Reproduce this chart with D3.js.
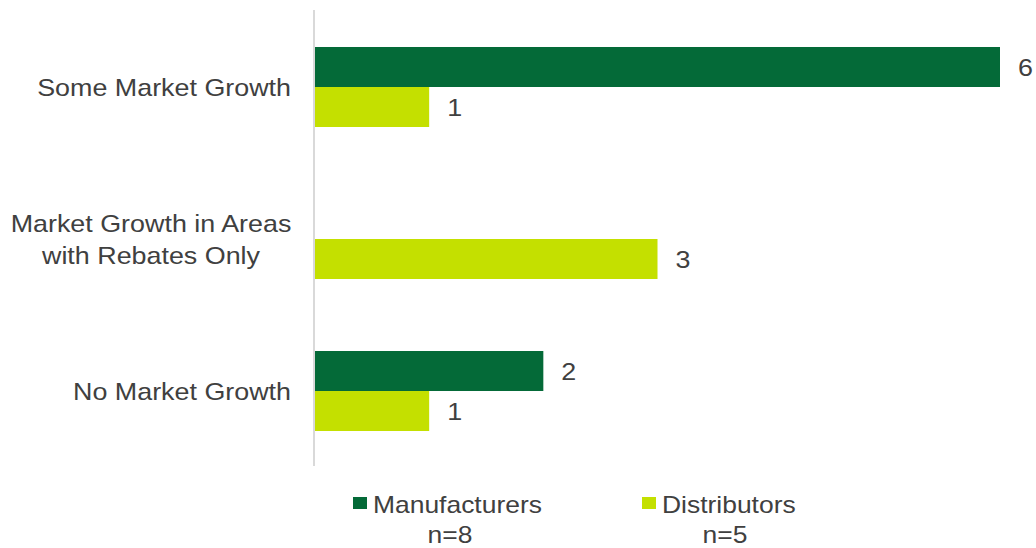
<!DOCTYPE html>
<html>
<head>
<meta charset="utf-8">
<script src="https://cdn.jsdelivr.net/npm/d3@7"></script>
<style>
  body { margin: 0; background: #fff; }
  text { font-family: "Liberation Sans", Arial, sans-serif; fill: #404040; }
</style>
</head>
<body>
<div id="chart"></div>
<script>
const categories = ["Some Market Growth", "Market Growth in Areas\nwith Rebates Only", "No Market Growth"];
const seriesNames = ["Manufacturers", "Distributors"];
const seriesN = ["n=8", "n=5"];
const manufacturers = [6, 0, 2];
const distributors = [1, 3, 1];
const colors = ["#046a38", "#c4e000"];

const width = 1036, height = 548;
const stretch = 1.12;  // the source text is a bit wide
const svg = d3.select('#chart').append('svg')
    .attr('width', width)
    .attr('height', height);

const x = d3.scaleLinear().domain([0, 6]).range([315, 1000]);
const y = d3.scaleBand().domain(categories).range([11, 467])
    .paddingInner(0.4737).paddingOuter(0.2368);
const ySub = d3.scaleBand().domain(seriesNames).range([0, y.bandwidth()]);

// places a text group at (tx, ty), stretched horizontally
function addLabel(parent, tx, ty, str, size, anchor, sx) {
    const g = parent.append('g')
        .attr('transform', `translate(${tx},${ty}) scale(${sx || stretch},1)`);
    const lines = str.split('\n');
    const t = g.append('text')
        .attr('text-anchor', anchor)
        .style('font-size', size + 'px');
    lines.forEach((ln, i) => {
        t.append('tspan')
            .attr('x', 0)
            .attr('y', (i - (lines.length - 1) / 2) * 32)
            .attr('dy', '0.36em')
            .text(ln);
    });
    return g;
}

const rows = categories.map((c, i) => ({
    cat: c,
    values: [
        { series: seriesNames[0], value: manufacturers[i] },
        { series: seriesNames[1], value: distributors[i] }
    ]
}));

const groups = svg.selectAll('.cat')
    .data(rows)
    .join('g')
    .attr('class', 'cat')
    .attr('transform', d => `translate(0,${y(d.cat)})`);

groups.selectAll('rect')
    .data(d => d.values.filter(v => v.value > 0))
    .join('rect')
    .attr('x', x(0))
    .attr('y', d => ySub(d.series))
    .attr('width', d => x(d.value) - x(0))
    .attr('height', ySub.bandwidth())
    .attr('fill', d => colors[seriesNames.indexOf(d.series)]);

groups.each(function(d) {
    const g = d3.select(this);
    d.values.filter(v => v.value > 0).forEach(v => {
        addLabel(g, x(v.value) + 18, ySub(v.series) + ySub.bandwidth() / 2,
            String(v.value), 24, 'start');
    });
});

// category labels
categories.forEach(c => {
    const cy = y(c) + y.bandwidth() / 2;
    if (c.includes('\n')) {
        addLabel(svg, 151, cy, c, 24, 'middle');
    } else {
        addLabel(svg, 291, cy, c, 24, 'end');
    }
});

// axis line
svg.append('line')
    .attr('x1', x(0) - 1).attr('x2', x(0) - 1)
    .attr('y1', 10).attr('y2', 466)
    .attr('stroke', '#d9d9d9')
    .attr('stroke-width', 2);

// legend
const legendX = [353, 642];
const nX = [450, 725];
seriesNames.forEach((s, i) => {
    svg.append('rect')
        .attr('x', legendX[i])
        .attr('y', 497)
        .attr('width', 14)
        .attr('height', 12)
        .attr('fill', colors[i]);
    addLabel(svg, legendX[i] + 20, 505, s, 23, 'start', 1.15);
    addLabel(svg, nX[i], 535, seriesN[i], 23, 'middle', 1.15);
});
</script>
</body>
</html>
